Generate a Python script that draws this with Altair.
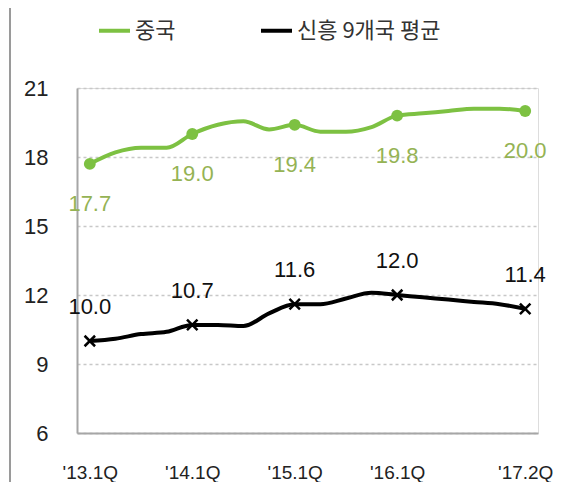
import altair as alt
import pandas as pd

quarters = ["'13.1Q", "'13.2Q", "'13.3Q", "'13.4Q",
            "'14.1Q", "'14.2Q", "'14.3Q", "'14.4Q",
            "'15.1Q", "'15.2Q", "'15.3Q", "'15.4Q",
            "'16.1Q", "'16.2Q", "'16.3Q", "'16.4Q",
            "'17.1Q", "'17.2Q"]
shown_ticks = ["'13.1Q", "'14.1Q", "'15.1Q", "'16.1Q", "'17.2Q"]
series_names = ["중국", "신흥 9개국 평균"]
china = [17.7, 18.2, 18.4, 18.4, 19.0, 19.4, 19.55, 19.2, 19.4, 19.1,
         19.1, 19.3, 19.8, 19.9, 20.0, 20.1, 20.1, 20.0]
em9 = [10.0, 10.1, 10.3, 10.4, 10.7, 10.7, 10.65, 11.2, 11.6, 11.6,
       11.85, 12.1, 12.0, 11.9, 11.8, 11.7, 11.6, 11.4]
y_ticks = [6, 9, 12, 15, 18, 21]
colors = ["#7DC142", "#000000"]

rows = []
for name, vals in zip(series_names, [china, em9]):
    for q, v in zip(quarters, vals):
        rows.append({"series": name, "quarter": q, "value": v,
                     "marked": q in shown_ticks})
df = pd.DataFrame(rows)

NUM_FONT = "Liberation Sans"
KR_FONT = "Noto Sans CJK KR"

color_enc = alt.Color("series:N", sort=series_names,
                      scale=alt.Scale(domain=series_names, range=colors),
                      legend=alt.Legend(title=None, orient="none", direction="horizontal",
                                        legendX=20, legendY=-75,
                                        symbolType="stroke", symbolSize=961,
                                        symbolStrokeWidth=4,
                                        labelFont=KR_FONT, labelFontSize=22,
                                        labelColor="#333333",
                                        labelOffset=3, columnPadding=77))

x_enc = alt.X("quarter:O", sort=quarters, scale=alt.Scale(domain=quarters),
              axis=alt.Axis(title=None, values=shown_ticks, labelAngle=0,
                            labelFont=NUM_FONT, labelFontSize=19, labelColor="#222222",
                            labelPadding=30, ticks=False, domainColor="#A6A6A6",
                            domainWidth=2, grid=False, labelBaseline="top"))
y_enc = alt.Y("value:Q", scale=alt.Scale(domain=[6, 21], nice=False, zero=False),
              axis=alt.Axis(title=None, values=y_ticks, labelFont=NUM_FONT,
                            labelFontSize=22, labelColor="#222222", labelPadding=29,
                            ticks=False, domainColor="#A6A6A6", domainWidth=2,
                            grid=True, gridDash=[3, 3], gridColor="#C8C8C8",
                            gridWidth=1.5))

base = alt.Chart(df).encode(x=x_enc, y=y_enc)

lines = base.mark_line(strokeWidth=4, interpolate="monotone").encode(color=color_enc)

marked = base.transform_filter(alt.datum.marked)

green_pts = marked.transform_filter(alt.datum.series == series_names[0]).mark_point(
    shape="circle", filled=True, size=140, color=colors[0], opacity=1)
black_pts = marked.transform_filter(alt.datum.series == series_names[1]).mark_point(
    shape="M-1,-1L1,1M-1,1L1,-1", filled=False, size=110, color="#000000",
    strokeWidth=2.5, opacity=1)

green_txt = marked.transform_filter(alt.datum.series == series_names[0]).mark_text(
    dy=40, font=NUM_FONT, fontSize=22, color="#95B354").encode(
    text=alt.Text("value:Q", format=".1f"))
black_txt = marked.transform_filter(alt.datum.series == series_names[1]).mark_text(
    dy=-34, font=NUM_FONT, fontSize=22, color="#111111").encode(
    text=alt.Text("value:Q", format=".1f"))

frame_v = alt.Chart(df).mark_rule(color="#9A9A9A", strokeWidth=1.5).encode(
    x=alt.value(-67), y=alt.value(-82), y2=alt.value(420))
frame_h = alt.Chart(df).mark_rule(color="#9A9A9A", strokeWidth=1.5).encode(
    x=alt.value(-67), x2=alt.value(520), y=alt.value(-82))

chart = alt.layer(frame_v, frame_h, lines, green_pts, black_pts, green_txt, black_txt).properties(
    width=461, height=345,
    autosize=alt.AutoSizeParams(type="none"),
    padding={"left": 69, "top": 80, "right": 15, "bottom": 49},
).configure_view(stroke=None).configure(background="white")

chart.save("out.html", embed_options={"renderer": "svg", "actions": False})
